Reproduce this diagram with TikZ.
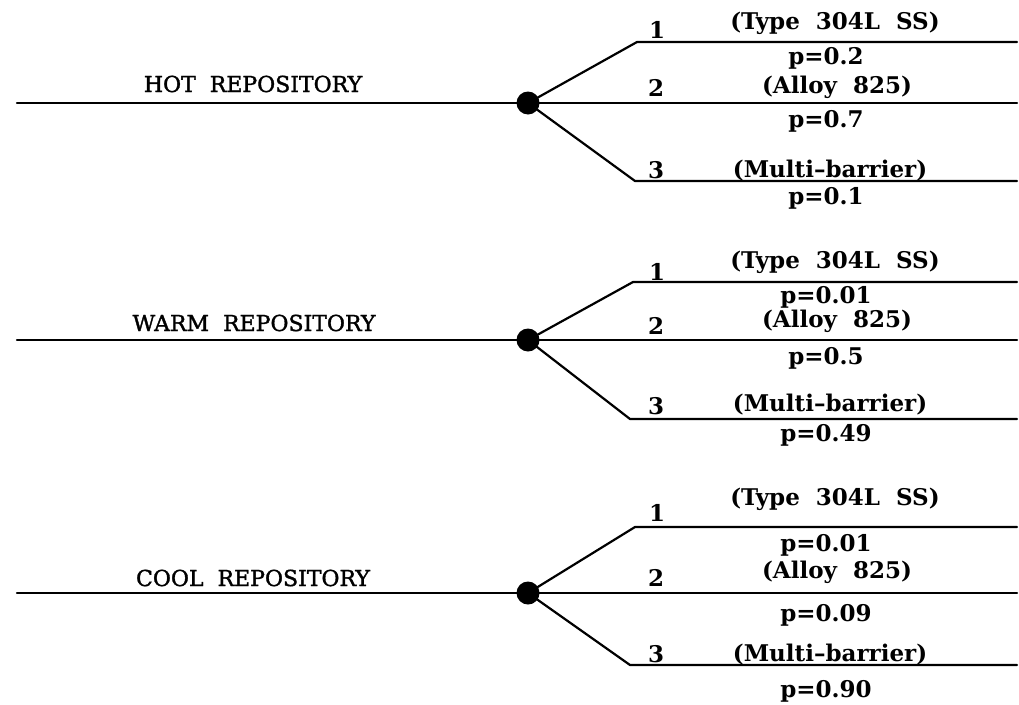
\documentclass[tikz,border=0pt]{standalone}
\usepackage{fontspec}
\newfontfamily\repfont[FakeBold=1.6]{DejaVu Serif}
\newfontfamily\brfont{DejaVu Serif}
\begin{document}
\begin{tikzpicture}[x=1pt,y=-1pt,
  ln/.style={line width=2.2pt,line cap=round,line join=round},
  dotnode/.style={circle,fill=black,inner sep=0pt,minimum size=23pt},
  reptext/.style={anchor=base,inner sep=0pt,font=\repfont\fontsize{22}{22}\selectfont},
  brtext/.style={anchor=base,inner sep=0pt,font=\brfont\bfseries\fontsize{23}{23}\selectfont},
]
\useasboundingbox (0,0) rectangle (1019,704);

% ---------------- HOT ----------------
\coordinate (hs) at (17,103);
\node[dotnode] (h) at (528,103) {};
\coordinate (h1b) at (637,42);  \coordinate (h1e) at (1017,42);
\coordinate (h2e) at (1017,103);
\coordinate (h3b) at (635,181); \coordinate (h3e) at (1017,181);
\draw[ln] (hs) -- (h.center);
\draw[ln] (h.center) -- (h1b) -- (h1e);
\draw[ln] (h.center) -- (h2e);
\draw[ln] (h.center) -- (h3b) -- (h3e);
\node[reptext] (hl) at (253,92) {HOT\ \ REPOSITORY};
\node[brtext] (hn1) at (657,38) {1};
\node[brtext] (ht1) at (835,29) {(Type\ \ 304L\ \ SS)};
\node[brtext] (hp1) at (826,64) {p=0.2};
\node[brtext] (hn2) at (656,96) {2};
\node[brtext] (ht2) at (837,93) {(Alloy\ \ 825)};
\node[brtext] (hp2) at (826,127) {p=0.7};
\node[brtext] (hn3) at (656,178) {3};
\node[brtext] (ht3) at (830,177) {(Multi–barrier)};
\node[brtext] (hp3) at (826,204) {p=0.1};

% ---------------- WARM ----------------
\coordinate (ws) at (17,340);
\node[dotnode] (w) at (528,340) {};
\coordinate (w1b) at (633,282); \coordinate (w1e) at (1017,282);
\coordinate (w2e) at (1017,340);
\coordinate (w3b) at (630,419); \coordinate (w3e) at (1017,419);
\draw[ln] (ws) -- (w.center);
\draw[ln] (w.center) -- (w1b) -- (w1e);
\draw[ln] (w.center) -- (w2e);
\draw[ln] (w.center) -- (w3b) -- (w3e);
\node[reptext] (wl) at (254,331) {WARM\ \ REPOSITORY};
\node[brtext] (wn1) at (657,280) {1};
\node[brtext] (wt1) at (835,268) {(Type\ \ 304L\ \ SS)};
\node[brtext] (wp1) at (826,303) {p=0.01};
\node[brtext] (wn2) at (656,334) {2};
\node[brtext] (wt2) at (837,327) {(Alloy\ \ 825)};
\node[brtext] (wp2) at (826,364) {p=0.5};
\node[brtext] (wn3) at (656,414) {3};
\node[brtext] (wt3) at (830,411) {(Multi–barrier)};
\node[brtext] (wp3) at (826,441) {p=0.49};

% ---------------- COOL ----------------
\coordinate (cs) at (17,593);
\node[dotnode] (c) at (528,593) {};
\coordinate (c1b) at (635,527); \coordinate (c1e) at (1017,527);
\coordinate (c2e) at (1017,593);
\coordinate (c3b) at (630,665); \coordinate (c3e) at (1017,665);
\draw[ln] (cs) -- (c.center);
\draw[ln] (c.center) -- (c1b) -- (c1e);
\draw[ln] (c.center) -- (c2e);
\draw[ln] (c.center) -- (c3b) -- (c3e);
\node[reptext] (cl) at (253,586) {COOL\ \ REPOSITORY};
\node[brtext] (cn1) at (657,521) {1};
\node[brtext] (ct1) at (835,505) {(Type\ \ 304L\ \ SS)};
\node[brtext] (cp1) at (826,551) {p=0.01};
\node[brtext] (cn2) at (656,586) {2};
\node[brtext] (ct2) at (837,578) {(Alloy\ \ 825)};
\node[brtext] (cp2) at (826,621) {p=0.09};
\node[brtext] (cn3) at (656,662) {3};
\node[brtext] (ct3) at (830,661) {(Multi–barrier)};
\node[brtext] (cp3) at (826,697) {p=0.90};
\end{tikzpicture}
\end{document}
